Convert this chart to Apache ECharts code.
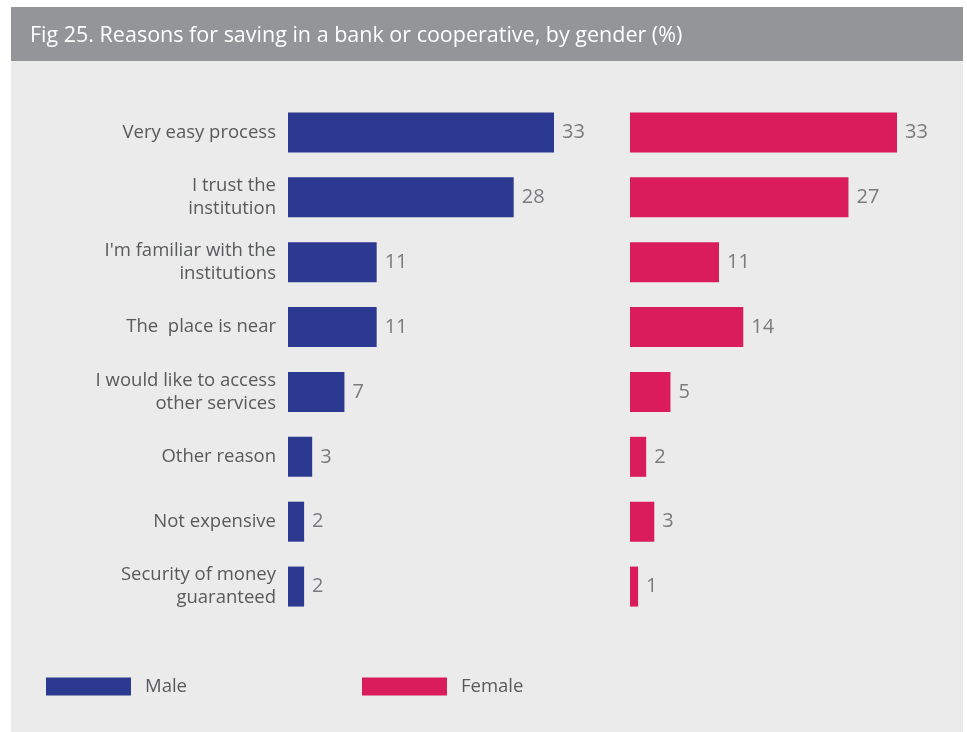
<!DOCTYPE html>
<html>
<head>
<meta charset="utf-8">
<script src="https://cdn.jsdelivr.net/npm/echarts@6/dist/echarts.min.js"></script>
<style>
  html, body { margin: 0; padding: 0; background: #ffffff; }
  #chart { width: 967px; height: 732px; }
</style>
</head>
<body>
<div id="chart"></div>
<script>
(function () {
    'use strict';

    // 数据
    var titleText = 'Fig 25. Reasons for saving in a bank or cooperative, by gender (%)';
    var reasons = [
        'Very easy process',
        'I trust the\ninstitution',
        "I'm familiar with the\ninstitutions",
        'The  place is near',
        'I would like to access\nother services',
        'Other reason',
        'Not expensive',
        'Security of money\nguaranteed'
    ];
    var maleValues = [33, 28, 11, 11, 7, 3, 2, 2];
    var femaleValues = [33, 27, 11, 14, 5, 2, 3, 1];
    var seriesNames = ['Male', 'Female'];

    var BLUE = '#2b3990';
    var PINK = '#da1c5c';
    var FONT = '"Open Sans", sans-serif';

    var myChart = echarts.init(document.getElementById('chart'));

    function valueAxis(idx) {
        return {
            type: 'value', gridIndex: idx, min: 0, max: 33,
            show: false, splitLine: {show: false}
        };
    }

    function catAxis(idx, showLabel) {
        return {
            type: 'category', gridIndex: idx, data: reasons, inverse: true,
            axisLine: {show: false}, axisTick: {show: false},
            axisLabel: {
                show: showLabel, margin: 12, color: '#58595b',
                fontFamily: FONT, fontSize: 18.5, lineHeight: 23, align: 'right'
            }
        };
    }

    function barSeries(idx, name, values, color) {
        return {
            name: name, type: 'bar', xAxisIndex: idx, yAxisIndex: idx,
            data: values, barWidth: 40,
            itemStyle: {color: color},
            label: {
                show: true, position: 'right', distance: 8,
                color: '#7a7b7e', fontFamily: FONT, fontSize: 20
            }
        };
    }

    var option = {
        backgroundColor: '#ffffff',
        animation: false,
        graphic: [
            {type: 'rect', shape: {x: 11, y: 61, width: 952, height: 671}, style: {fill: '#ebebeb'}, z: -10},
            {type: 'rect', shape: {x: 11, y: 7, width: 952, height: 54}, style: {fill: '#939598'}, z: -10},
            {
                type: 'text', left: 30, top: 25,
                style: {text: titleText, fill: '#ffffff', font: '21.5px "Open Sans", sans-serif'}
            }
        ],
        legend: {
            left: 41, top: 672, itemWidth: 85, itemHeight: 18, itemGap: 175,
            icon: 'rect',
            data: seriesNames,
            textStyle: {color: '#58595b', fontFamily: FONT, fontSize: 18.5, padding: [0, 0, 0, 9]}
        },
        grid: [
            {left: 288, width: 266, top: 100, height: 519, containLabel: false},
            {left: 630, width: 267, top: 100, height: 519, containLabel: false}
        ],
        xAxis: [valueAxis(0), valueAxis(1)],
        yAxis: [catAxis(0, true), catAxis(1, false)],
        series: [
            barSeries(0, seriesNames[0], maleValues, BLUE),
            barSeries(1, seriesNames[1], femaleValues, PINK)
        ]
    };
    myChart.setOption(option);
})();
</script>
</body>
</html>
